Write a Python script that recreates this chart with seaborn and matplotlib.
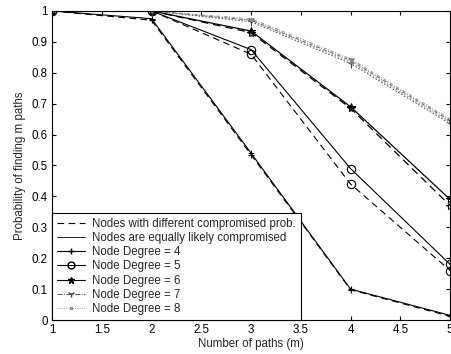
import pandas as pd
import matplotlib.pyplot as plt
import seaborn as sns
from matplotlib.lines import Line2D

# -----------------------------
# Data
# -----------------------------
paths = [1, 2, 3, 4, 5]

# equally likely compromised (solid)
deg4_equal = [1.0, 0.975, 0.54, 0.10, 0.015]
deg5_equal = [1.0, 1.0, 0.875, 0.49, 0.18]
deg6_equal = [1.0, 1.0, 0.935, 0.69, 0.39]
deg7_equal = [1.0, 1.0, 0.97, 0.84, 0.645]
deg8_equal = [1.0, 1.0, 0.975, 0.845, 0.65]

# different compromised probability (dashed)
deg4_diff = [1.0, 0.97, 0.535, 0.098, 0.012]
deg5_diff = [1.0, 1.0, 0.86, 0.44, 0.16]
deg6_diff = [1.0, 1.0, 0.93, 0.685, 0.37]
deg7_diff = [1.0, 1.0, 0.965, 0.83, 0.635]
deg8_diff = [1.0, 1.0, 0.97, 0.835, 0.64]

degrees = [4, 5, 6, 7, 8]
equal_series = [deg4_equal, deg5_equal, deg6_equal, deg7_equal, deg8_equal]
diff_series = [deg4_diff, deg5_diff, deg6_diff, deg7_diff, deg8_diff]

legend_labels = [
    "Nodes with different compromised prob.",
    "Nodes are equally likely compromised",
    "Node Degree = 4",
    "Node Degree = 5",
    "Node Degree = 6",
    "Node Degree = 7",
    "Node Degree = 8",
]

# -----------------------------
# Style
# -----------------------------
sns.set_theme(style="ticks")
plt.rcParams["font.family"] = ["Liberation Sans", "DejaVu Sans"]
fs = 8.3

markers = {4: "+", 5: "o", 6: "*", 7: "1", 8: "."}
msizes = {4: 5, 5: 6, 6: 6, 7: 6, 8: 3}
colors = {4: "black", 5: "black", 6: "black", 7: "#444444", 8: "#888888"}
widths = {4: 0.8, 5: 0.8, 6: 0.9, 7: 0.6, 8: 0.6}

fig = plt.figure(figsize=(4.51, 3.54), dpi=100)
ax = fig.add_axes([0.1153, 0.096, 0.8827, 0.873])

for deg, eq, df_ in zip(degrees, equal_series, diff_series):
    frame = pd.DataFrame({"paths": paths, "equal": eq, "diff": df_})
    sns.lineplot(data=frame, x="paths", y="equal", ax=ax, color=colors[deg],
                 linewidth=widths[deg],
                 linestyle="-" if deg < 7 else (0, (4, 2, 1, 2)),
                 marker=markers[deg], markersize=msizes[deg],
                 markerfacecolor="none", markeredgecolor=colors[deg],
                 markeredgewidth=0.8)
    sns.lineplot(data=frame, x="paths", y="diff", ax=ax, color=colors[deg],
                 linewidth=widths[deg],
                 linestyle=(0, (6, 4)) if deg < 7 else (0, (2, 2)),
                 marker=markers[deg], markersize=msizes[deg],
                 markerfacecolor="none", markeredgecolor=colors[deg],
                 markeredgewidth=0.8)

ax.set_xlim(1, 5)
ax.set_ylim(0, 1)
ax.set_xticks([1, 1.5, 2, 2.5, 3, 3.5, 4, 4.5, 5])
ax.set_xticklabels(["1", "1.5", "2", "2.5", "3", "3.5", "4", "4.5", "5"])
ax.set_yticks([0, 0.1, 0.2, 0.3, 0.4, 0.5, 0.6, 0.7, 0.8, 0.9, 1])
ax.set_yticklabels(["0", "0.1", "0.2", "0.3", "0.4", "0.5", "0.6",
                    "0.7", "0.8", "0.9", "1"])
ax.tick_params(direction="in", top=True, right=True, length=3,
               width=0.8, labelsize=fs, colors="black", pad=3)
for spine in ax.spines.values():
    spine.set_visible(True)
    spine.set_color("black")
    spine.set_linewidth(0.8)

ax.set_xlabel("Number of paths (m)", fontsize=fs, labelpad=1)
ax.set_ylabel("Probability of finding m paths", fontsize=fs, labelpad=4)

# -----------------------------
# Legend
# -----------------------------
handles = [
    Line2D([], [], color="black", linestyle=(0, (6, 4)), linewidth=0.8),
    Line2D([], [], color="black", linestyle="-", linewidth=0.6),
    Line2D([], [], color="black", linestyle="-", linewidth=0.8, marker="+",
           markersize=5),
    Line2D([], [], color="black", linestyle="-", linewidth=0.8, marker="o",
           markersize=5, markerfacecolor="none"),
    Line2D([], [], color="black", linestyle="-", linewidth=0.8, marker="*",
           markersize=5),
    Line2D([], [], color="#444444", linestyle="-.", linewidth=0.6,
           marker="1", markersize=5),
    Line2D([], [], color="#888888", linestyle=":", linewidth=0.6,
           marker=".", markersize=3),
]
leg = ax.legend(handles, legend_labels, loc="lower left", fontsize=fs,
                frameon=True, fancybox=False, framealpha=1,
                edgecolor="black", borderaxespad=0, handlelength=2.5,
                labelspacing=0.2, borderpad=0.4, handletextpad=0.6)
leg.get_frame().set_linewidth(0.8)

plt.savefig("out.png", dpi=100)
